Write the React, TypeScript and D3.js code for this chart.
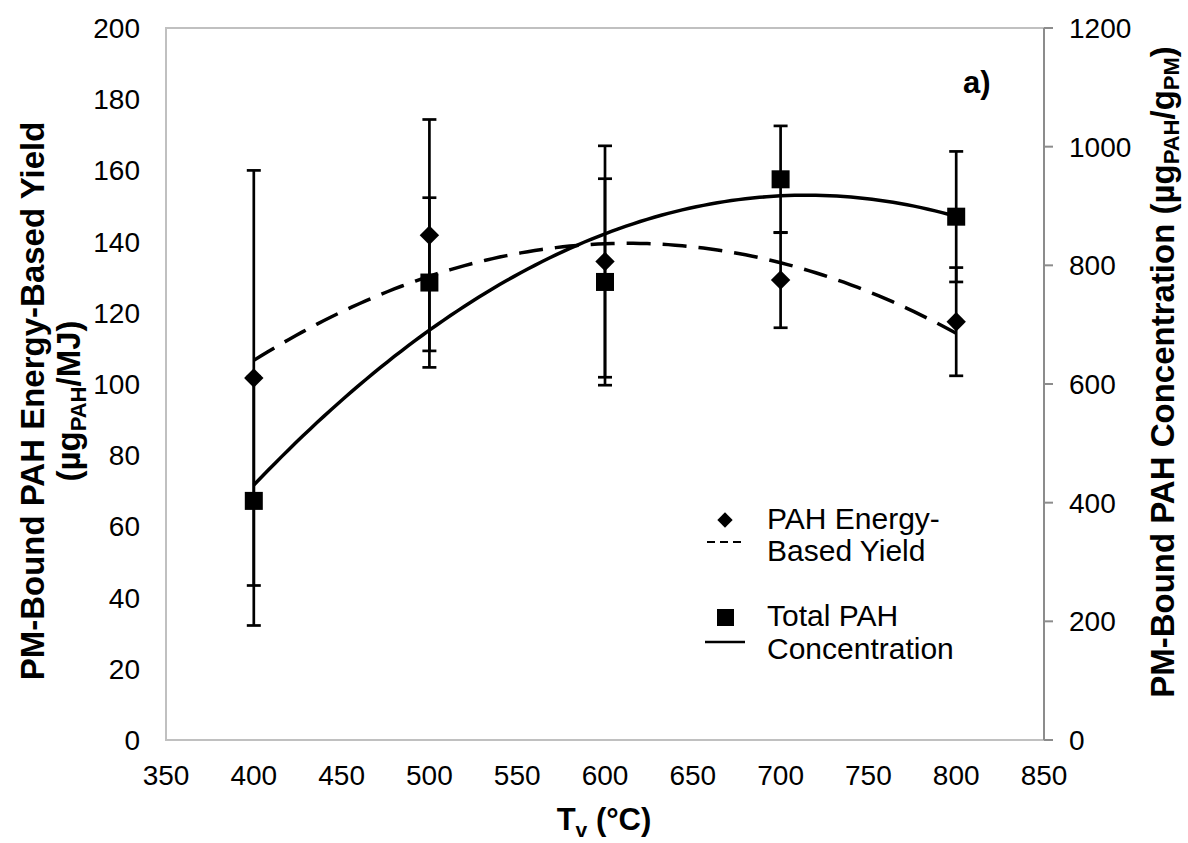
import * as d3 from "d3"
import { useRef, useEffect } from "react"

// measured temperatures (°C)
const temps = [400, 500, 600, 700, 800]
// PAH energy-based yield (left axis, µg/MJ) and its error bars
const yieldVals = [101.7, 141.8, 134.4, 129.2, 117.5]
const yieldErr = [58.3, 32.5, 32.5, 13.4, 15.2]
// total PAH concentration (right axis, µg/g) and its error bars
const concVals = [403, 771, 772, 945, 882]
const concErr = [210, 143, 174, 90, 110]

const xTicks = [350, 400, 450, 500, 550, 600, 650, 700, 750, 800, 850]
const leftTicks = [0, 20, 40, 60, 80, 100, 120, 140, 160, 180, 200]
const rightTicks = [0, 200, 400, 600, 800, 1000, 1200]

const W = 1188
const H = 843
const font = "'Liberation Sans', Arial, sans-serif"

// least-squares 2nd order polynomial, like the spreadsheet trendline
const polyFit2 = (xs, ys) => {
  const n = xs.length
  const mx = d3.mean(xs)
  const t = xs.map((x) => (x - mx) / 100)
  const s = (f) => d3.sum(t.map((ti, i) => f(ti, ys[i])))
  const S0 = n, S1 = s((a) => a), S2 = s((a) => a * a), S3 = s((a) => a ** 3), S4 = s((a) => a ** 4)
  const T0 = s((a, y) => y), T1 = s((a, y) => a * y), T2 = s((a, y) => a * a * y)
  // solve 3x3 with Cramer
  const M = [[S0, S1, S2], [S1, S2, S3], [S2, S3, S4]]
  const det = (m) =>
    m[0][0] * (m[1][1] * m[2][2] - m[1][2] * m[2][1]) -
    m[0][1] * (m[1][0] * m[2][2] - m[1][2] * m[2][0]) +
    m[0][2] * (m[1][0] * m[2][1] - m[1][1] * m[2][0])
  const D = det(M)
  const rhs = [T0, T1, T2]
  const coef = [0, 1, 2].map((k) => det(M.map((row, r) => row.map((v, c) => (c === k ? rhs[r] : v)))) / D)
  return (x) => {
    const u = (x - mx) / 100
    return coef[0] + coef[1] * u + coef[2] * u * u
  }
}

const App = () => {
  const svgRef = useRef()

  useEffect(() => {
    const svg = d3.select(svgRef.current)
    svg.selectAll("*").remove()

    const left = 166, right = 1044, top = 28, bottom = 740
    const x = d3.scaleLinear().domain([350, 850]).range([left, right])
    const yL = d3.scaleLinear().domain([0, 200]).range([bottom, top])
    const yR = d3.scaleLinear().domain([0, 1200]).range([bottom, top])

    // plot frame
    svg.append("rect")
      .attr("x", left).attr("y", top)
      .attr("width", right - left).attr("height", bottom - top)
      .attr("fill", "none").attr("stroke", "#c0c0c0").attr("stroke-width", 2)

    // right axis line + ticks
    svg.append("line")
      .attr("x1", right).attr("x2", right).attr("y1", top).attr("y2", bottom)
      .attr("stroke", "#8c8c8c").attr("stroke-width", 2)
    svg.selectAll(".rtick").data(rightTicks).join("line")
      .attr("x1", right).attr("x2", right + 9)
      .attr("y1", (d) => yR(d)).attr("y2", (d) => yR(d))
      .attr("stroke", "#8c8c8c").attr("stroke-width", 2)

    // tick labels
    svg.selectAll(".xl").data(xTicks).join("text")
      .attr("x", (d) => x(d)).attr("y", 785)
      .attr("text-anchor", "middle").attr("font-size", 28).attr("font-family", font)
      .text((d) => d)
    svg.selectAll(".ll").data(leftTicks).join("text")
      .attr("x", 140).attr("y", (d) => yL(d) + 10)
      .attr("text-anchor", "end").attr("font-size", 28).attr("font-family", font)
      .text((d) => d)
    svg.selectAll(".rl").data(rightTicks).join("text")
      .attr("x", 1069).attr("y", (d) => yR(d) + 10)
      .attr("text-anchor", "start").attr("font-size", 28).attr("font-family", font)
      .text((d) => d)

    // trendlines
    const fitY = polyFit2(temps, yieldVals)
    const fitC = polyFit2(temps, concVals)
    const xs = d3.range(400, 801, 4)
    const lineL = d3.line().x((d) => x(d)).y((d) => yL(fitY(d)))
    const lineR = d3.line().x((d) => x(d)).y((d) => yR(fitC(d)))
    svg.append("path").attr("d", lineL(xs))
      .attr("fill", "none").attr("stroke", "#000").attr("stroke-width", 3.5)
      .attr("stroke-dasharray", "24,12")
    svg.append("path").attr("d", lineR(xs))
      .attr("fill", "none").attr("stroke", "#000").attr("stroke-width", 3.5)

    // error bars
    const cap = 7
    const drawErr = (vals, errs, y) => {
      const g = svg.append("g").attr("stroke", "#000").attr("stroke-width", 2.7)
      temps.forEach((t, i) => {
        const cx = x(t)
        const y1 = y(vals[i] - errs[i]), y2 = y(vals[i] + errs[i])
        g.append("line").attr("x1", cx).attr("x2", cx).attr("y1", y1).attr("y2", y2)
        g.append("line").attr("x1", cx - cap).attr("x2", cx + cap).attr("y1", y1).attr("y2", y1)
        g.append("line").attr("x1", cx - cap).attr("x2", cx + cap).attr("y1", y2).attr("y2", y2)
      })
    }
    drawErr(yieldVals, yieldErr, yL)
    drawErr(concVals, concErr, yR)

    // markers
    const diamond = d3.symbol().type(d3.symbolDiamond2).size(240)
    svg.selectAll(".dm").data(temps).join("path")
      .attr("d", diamond)
      .attr("transform", (d, i) => `translate(${x(d)},${yL(yieldVals[i])})`)
      .attr("fill", "#000")
    svg.selectAll(".sq").data(temps).join("rect")
      .attr("x", (d) => x(d) - 9).attr("y", (d, i) => yR(concVals[i]) - 9)
      .attr("width", 18).attr("height", 18).attr("fill", "#000")

    // legend
    const lg = svg.append("g").attr("font-family", font).attr("font-size", 30)
    lg.append("path").attr("d", d3.symbol().type(d3.symbolDiamond2).size(150))
      .attr("transform", "translate(725,520)")
    lg.append("line").attr("x1", 707).attr("x2", 744).attr("y1", 542).attr("y2", 542)
      .attr("stroke", "#000").attr("stroke-width", 2).attr("stroke-dasharray", "8,5")
    lg.append("text").attr("x", 767).attr("y", 529).text("PAH Energy-")
    lg.append("text").attr("x", 767).attr("y", 561).text("Based Yield")
    lg.append("rect").attr("x", 717).attr("y", 609).attr("width", 17).attr("height", 17)
    lg.append("line").attr("x1", 705).attr("x2", 745).attr("y1", 642).attr("y2", 642)
      .attr("stroke", "#000").attr("stroke-width", 2.5)
    lg.append("text").attr("x", 767).attr("y", 626).text("Total PAH")
    lg.append("text").attr("x", 767).attr("y", 659).text("Concentration")

    // panel label
    svg.append("text").attr("x", 963).attr("y", 93)
      .attr("font-family", font).attr("font-size", 31).attr("font-weight", "bold").text("a)")

    // x title
    const xt = svg.append("text").attr("x", 604).attr("y", 830).attr("text-anchor", "middle")
      .attr("font-family", font).attr("font-size", 31).attr("font-weight", "bold")
    xt.append("tspan").text("T")
    xt.append("tspan").attr("font-size", 21).attr("dy", 7).text("v")
    xt.append("tspan").attr("dy", -7).text(" (°C)")

    // left title
    const lt = svg.append("g").attr("transform", `translate(0, ${(top + bottom) / 2 + 17}) rotate(-90)`)
      .attr("font-family", font).attr("font-weight", "bold").attr("font-size", 33)
    lt.append("text").attr("x", 0).attr("y", 44).attr("text-anchor", "middle")
      .text("PM-Bound PAH Energy-Based Yield")
    const lt2 = lt.append("text").attr("x", 0).attr("y", 80).attr("text-anchor", "middle")
    lt2.append("tspan").text("(µg")
    lt2.append("tspan").attr("font-size", 22).attr("dy", 6).text("PAH")
    lt2.append("tspan").attr("dy", -6).text("/MJ)")

    // right title
    const rt = svg.append("g").attr("transform", `translate(1174, ${(top + bottom) / 2 - 12}) rotate(-90)`)
      .attr("font-family", font).attr("font-weight", "bold").attr("font-size", 33)
    const rtt = rt.append("text").attr("x", 0).attr("y", 0).attr("text-anchor", "middle")
    rtt.append("tspan").text("PM-Bound PAH Concentration (µg")
    rtt.append("tspan").attr("font-size", 22).attr("dy", 5).text("PAH")
    rtt.append("tspan").attr("dy", -5).text("/g")
    rtt.append("tspan").attr("font-size", 22).attr("dy", 5).text("PM")
    rtt.append("tspan").attr("dy", -5).text(")")
  }, [])

  return (
    <svg
      ref={svgRef}
      width={W}
      height={H}
      style={{ position: "absolute", left: 0, top: 0, background: "#fff" }}
    ></svg>
  )
}

export default App
